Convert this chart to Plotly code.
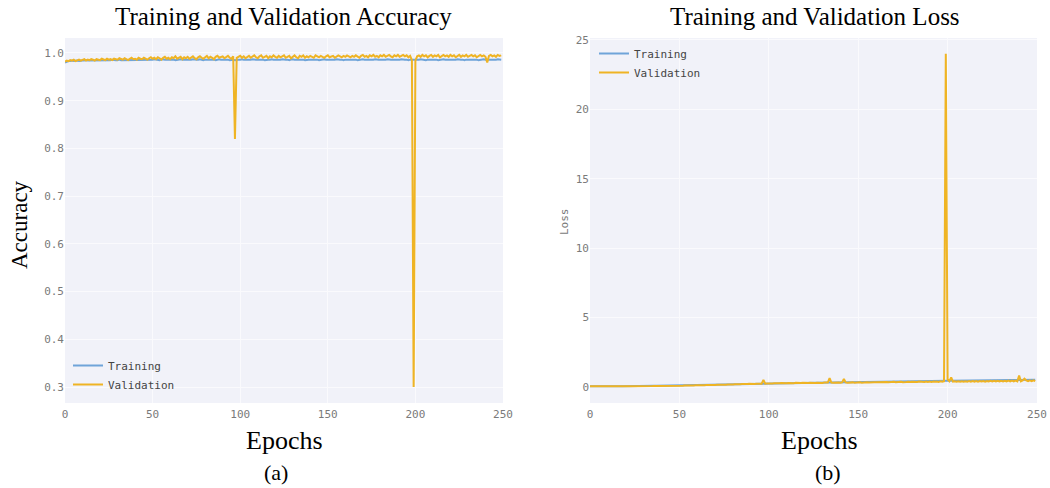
import plotly.graph_objects as go

# ---- data -------------------------------------------------------------
epochs = list(range(250))

acc_train = [
    0.980, 0.982, 0.983, 0.983, 0.984, 0.983, 0.984, 0.984, 0.983, 0.984,
    0.984, 0.984, 0.985, 0.984, 0.984, 0.985, 0.984, 0.985, 0.985, 0.984,
    0.985, 0.985, 0.985, 0.984, 0.985, 0.985, 0.985, 0.986, 0.985, 0.985,
    0.985, 0.986, 0.985, 0.985, 0.986, 0.985, 0.986, 0.986, 0.985, 0.986,
    0.986, 0.985, 0.986, 0.986, 0.986, 0.985, 0.986, 0.986, 0.986, 0.986,
    0.986, 0.987, 0.986, 0.986, 0.985, 0.986, 0.987, 0.986, 0.986, 0.986,
    0.987, 0.986, 0.986, 0.985, 0.986, 0.986, 0.987, 0.986, 0.986, 0.986,
    0.986, 0.985, 0.986, 0.987, 0.986, 0.986, 0.986, 0.987, 0.986, 0.985,
    0.986, 0.986, 0.987, 0.986, 0.986, 0.986, 0.985, 0.986, 0.987, 0.986,
    0.986, 0.986, 0.987, 0.986, 0.985, 0.986, 0.986, 0.985, 0.986, 0.986,
    0.986, 0.987, 0.986, 0.986, 0.986, 0.985, 0.986, 0.987, 0.986, 0.986,
    0.986, 0.986, 0.987, 0.986, 0.985, 0.986, 0.986, 0.986, 0.987, 0.986,
    0.986, 0.985, 0.986, 0.986, 0.987, 0.986, 0.986, 0.986, 0.985, 0.986,
    0.987, 0.986, 0.986, 0.986, 0.986, 0.987, 0.986, 0.985, 0.986, 0.986,
    0.986, 0.986, 0.987, 0.986, 0.986, 0.985, 0.986, 0.986, 0.987, 0.986,
    0.986, 0.986, 0.985, 0.986, 0.986, 0.987, 0.986, 0.986, 0.986, 0.985,
    0.986, 0.986, 0.986, 0.987, 0.986, 0.986, 0.986, 0.985, 0.986, 0.986,
    0.987, 0.986, 0.986, 0.986, 0.985, 0.986, 0.986, 0.987, 0.986, 0.986,
    0.986, 0.986, 0.985, 0.986, 0.987, 0.986, 0.986, 0.986, 0.986, 0.985,
    0.986, 0.986, 0.987, 0.986, 0.986, 0.986, 0.985, 0.986, 0.986, 0.985,
    0.986, 0.986, 0.986, 0.987, 0.986, 0.986, 0.985, 0.986, 0.986, 0.987,
    0.986, 0.986, 0.986, 0.985, 0.986, 0.986, 0.987, 0.986, 0.986, 0.986,
    0.986, 0.985, 0.986, 0.986, 0.987, 0.986, 0.986, 0.986, 0.985, 0.986,
    0.986, 0.987, 0.986, 0.986, 0.986, 0.986, 0.985, 0.986, 0.986, 0.987,
    0.986, 0.986, 0.986, 0.985, 0.986, 0.986, 0.986, 0.987, 0.986, 0.986,
]

acc_val = [
    0.982, 0.984, 0.983, 0.985, 0.984, 0.986, 0.983, 0.985, 0.986, 0.984,
    0.985, 0.987, 0.984, 0.986, 0.985, 0.987, 0.986, 0.984, 0.987, 0.986,
    0.985, 0.988, 0.986, 0.985, 0.988, 0.986, 0.987, 0.985, 0.988, 0.987,
    0.986, 0.989, 0.987, 0.986, 0.989, 0.987, 0.985, 0.988, 0.990, 0.987,
    0.988, 0.986, 0.990, 0.988, 0.987, 0.990, 0.988, 0.986, 0.989, 0.991,
    0.988, 0.990, 0.987, 0.991, 0.989, 0.986, 0.990, 0.992, 0.988, 0.990,
    0.987, 0.991, 0.989, 0.993, 0.988, 0.990, 0.992, 0.987, 0.991, 0.989,
    0.992, 0.988, 0.990, 0.993, 0.989, 0.987, 0.991, 0.993, 0.990, 0.988,
    0.991, 0.994, 0.989, 0.992, 0.990, 0.987, 0.992, 0.994, 0.990, 0.991,
    0.993, 0.989, 0.992, 0.994, 0.990, 0.988, 0.993, 0.820, 0.990, 0.992,
    0.994, 0.990, 0.993, 0.989, 0.991, 0.994, 0.990, 0.992, 0.995, 0.991,
    0.989, 0.993, 0.995, 0.990, 0.992, 0.994, 0.989, 0.993, 0.991, 0.995,
    0.992, 0.990, 0.994, 0.991, 0.993, 0.995, 0.990, 0.992, 0.994, 0.989,
    0.993, 0.995, 0.991, 0.989, 0.994, 0.992, 0.995, 0.990, 0.993, 0.991,
    0.994, 0.992, 0.990, 0.995, 0.993, 0.991, 0.994, 0.992, 0.990, 0.993,
    0.995, 0.991, 0.993, 0.994, 0.990, 0.992, 0.995, 0.993, 0.991, 0.994,
    0.992, 0.995, 0.993, 0.991, 0.994, 0.992, 0.995, 0.993, 0.990, 0.994,
    0.996, 0.992, 0.994, 0.991, 0.995, 0.993, 0.996, 0.992, 0.994, 0.991,
    0.995, 0.993, 0.996, 0.992, 0.994, 0.996, 0.993, 0.991, 0.995, 0.993,
    0.996, 0.992, 0.994, 0.996, 0.993, 0.995, 0.991, 0.994, 0.985, 0.300,
    0.984, 0.993, 0.995, 0.992, 0.996, 0.993, 0.995, 0.991, 0.994, 0.996,
    0.992, 0.995, 0.993, 0.996, 0.991, 0.994, 0.996, 0.993, 0.995, 0.992,
    0.996, 0.993, 0.995, 0.991, 0.994, 0.996, 0.992, 0.995, 0.993, 0.996,
    0.992, 0.994, 0.996, 0.993, 0.995, 0.991, 0.994, 0.996, 0.993, 0.995,
    0.992, 0.980, 0.994, 0.996, 0.993, 0.995, 0.992, 0.996, 0.994, 0.995,
]

loss_train = [
    0.050, 0.047, 0.048, 0.046, 0.047, 0.045, 0.047, 0.046, 0.048, 0.047,
    0.049, 0.048, 0.051, 0.050, 0.053, 0.052, 0.055, 0.054, 0.057, 0.056,
    0.059, 0.060, 0.062, 0.061, 0.065, 0.064, 0.068, 0.067, 0.071, 0.070,
    0.074, 0.073, 0.077, 0.078, 0.081, 0.080, 0.084, 0.085, 0.088, 0.087,
    0.092, 0.093, 0.096, 0.095, 0.100, 0.101, 0.105, 0.104, 0.109, 0.110,
    0.114, 0.115, 0.119, 0.120, 0.125, 0.124, 0.130, 0.131, 0.136, 0.137,
    0.142, 0.143, 0.148, 0.149, 0.154, 0.153, 0.160, 0.161, 0.167, 0.168,
    0.173, 0.175, 0.180, 0.182, 0.187, 0.189, 0.194, 0.196, 0.201, 0.203,
    0.209, 0.210, 0.216, 0.218, 0.223, 0.225, 0.231, 0.232, 0.238, 0.240,
    0.245, 0.247, 0.252, 0.254, 0.259, 0.260, 0.265, 0.266, 0.271, 0.272,
    0.277, 0.277, 0.282, 0.282, 0.286, 0.286, 0.290, 0.290, 0.294, 0.293,
    0.297, 0.296, 0.300, 0.299, 0.302, 0.301, 0.304, 0.303, 0.306, 0.305,
    0.308, 0.307, 0.310, 0.309, 0.312, 0.311, 0.314, 0.313, 0.316, 0.315,
    0.318, 0.317, 0.320, 0.319, 0.322, 0.321, 0.324, 0.323, 0.326, 0.325,
    0.328, 0.327, 0.330, 0.329, 0.332, 0.331, 0.334, 0.333, 0.336, 0.335,
    0.338, 0.337, 0.340, 0.339, 0.342, 0.343, 0.346, 0.348, 0.353, 0.358,
    0.367, 0.375, 0.387, 0.393, 0.401, 0.403, 0.408, 0.408, 0.412, 0.412,
    0.415, 0.415, 0.418, 0.418, 0.421, 0.420, 0.424, 0.423, 0.426, 0.426,
    0.429, 0.428, 0.432, 0.431, 0.434, 0.434, 0.437, 0.436, 0.440, 0.439,
    0.442, 0.442, 0.445, 0.444, 0.448, 0.447, 0.450, 0.450, 0.453, 0.452,
    0.456, 0.455, 0.458, 0.458, 0.461, 0.460, 0.464, 0.463, 0.466, 0.466,
    0.469, 0.468, 0.472, 0.471, 0.474, 0.474, 0.477, 0.476, 0.480, 0.479,
    0.482, 0.482, 0.485, 0.484, 0.488, 0.487, 0.490, 0.490, 0.493, 0.492,
    0.496, 0.495, 0.498, 0.498, 0.501, 0.500, 0.504, 0.503, 0.506, 0.506,
    0.509, 0.508, 0.512, 0.511, 0.514, 0.514, 0.517, 0.545, 0.522, 0.519,
]

loss_val = [
    0.060, 0.052, 0.055, 0.050, 0.053, 0.049, 0.052, 0.050, 0.054, 0.051,
    0.053, 0.050, 0.055, 0.052, 0.057, 0.054, 0.058, 0.055, 0.060, 0.057,
    0.061, 0.058, 0.063, 0.060, 0.066, 0.062, 0.068, 0.065, 0.071, 0.068,
    0.073, 0.070, 0.076, 0.074, 0.079, 0.077, 0.082, 0.080, 0.086, 0.083,
    0.089, 0.087, 0.093, 0.090, 0.096, 0.094, 0.100, 0.098, 0.104, 0.102,
    0.095, 0.108, 0.100, 0.113, 0.105, 0.118, 0.110, 0.124, 0.116, 0.130,
    0.122, 0.136, 0.128, 0.142, 0.133, 0.148, 0.139, 0.154, 0.146, 0.160,
    0.152, 0.167, 0.158, 0.174, 0.165, 0.181, 0.171, 0.188, 0.178, 0.195,
    0.185, 0.202, 0.192, 0.209, 0.198, 0.216, 0.205, 0.223, 0.212, 0.230,
    0.219, 0.237, 0.225, 0.244, 0.232, 0.250, 0.238, 0.520, 0.245, 0.262,
    0.251, 0.270, 0.257, 0.276, 0.262, 0.281, 0.266, 0.286, 0.270, 0.291,
    0.274, 0.295, 0.277, 0.298, 0.280, 0.301, 0.283, 0.304, 0.285, 0.306,
    0.287, 0.309, 0.289, 0.311, 0.291, 0.313, 0.293, 0.315, 0.295, 0.317,
    0.297, 0.319, 0.299, 0.321, 0.640, 0.323, 0.302, 0.325, 0.304, 0.327,
    0.306, 0.329, 0.580, 0.331, 0.309, 0.333, 0.311, 0.335, 0.313, 0.337,
    0.315, 0.339, 0.317, 0.341, 0.320, 0.344, 0.323, 0.347, 0.327, 0.352,
    0.340, 0.350, 0.356, 0.338, 0.362, 0.345, 0.367, 0.349, 0.370, 0.352,
    0.373, 0.348, 0.376, 0.356, 0.379, 0.352, 0.382, 0.360, 0.384, 0.357,
    0.386, 0.363, 0.389, 0.360, 0.392, 0.367, 0.394, 0.364, 0.397, 0.370,
    0.399, 0.368, 0.402, 0.374, 0.404, 0.371, 0.407, 0.377, 0.420, 24.000,
    0.560, 0.420, 0.700, 0.390, 0.412, 0.381, 0.415, 0.386, 0.418, 0.383,
    0.421, 0.389, 0.424, 0.386, 0.427, 0.392, 0.430, 0.389, 0.433, 0.395,
    0.436, 0.392, 0.439, 0.398, 0.442, 0.395, 0.445, 0.401, 0.448, 0.398,
    0.451, 0.404, 0.454, 0.401, 0.457, 0.407, 0.460, 0.404, 0.463, 0.410,
    0.820, 0.413, 0.470, 0.600, 0.473, 0.416, 0.476, 0.419, 0.480, 0.422,
]

acc_ticks = [0.3, 0.4, 0.5, 0.6, 0.7, 0.8, 0.9, 1.0]
loss_ticks = [0, 5, 10, 15, 20, 25]
epoch_ticks = [0, 50, 100, 150, 200, 250]

# ---- styling ----------------------------------------------------------
W, H = 1050, 488
BLUE = "#6FA4D9"
GOLD = "#EFB424"
PLOT_BG = "#F1F2F9"
MONO = "DejaVu Sans Mono"
SERIF = "Liberation Serif"


def px_x(p):
    return p / W


def px_y(p):
    return 1 - p / H


fig = go.Figure()

fig.add_trace(go.Scatter(x=epochs, y=acc_train, name="Training", mode="lines",
                         line=dict(color=BLUE, width=2), xaxis="x", yaxis="y",
                         legend="legend"))
fig.add_trace(go.Scatter(x=epochs, y=acc_val, name="Validation", mode="lines",
                         line=dict(color=GOLD, width=2), xaxis="x", yaxis="y",
                         legend="legend"))
fig.add_trace(go.Scatter(x=epochs, y=loss_train, name="Training", mode="lines",
                         line=dict(color=BLUE, width=2), xaxis="x2", yaxis="y2",
                         legend="legend2"))
fig.add_trace(go.Scatter(x=epochs, y=loss_val, name="Validation", mode="lines",
                         line=dict(color=GOLD, width=2), xaxis="x2", yaxis="y2",
                         legend="legend2"))

tick_font = dict(family=MONO, size=11, color="#7a7a7a")
axis_common = dict(showgrid=True, gridcolor="#FAFAFD", gridwidth=1, zeroline=False,
                   showline=False, ticks="", tickfont=tick_font)

y_dom = [px_y(403), px_y(38)]

fig.update_layout(
    template="none",
    width=W, height=H,
    margin=dict(l=0, r=0, t=0, b=0),
    paper_bgcolor="white",
    plot_bgcolor=PLOT_BG,
    showlegend=True,
    xaxis=dict(domain=[px_x(65), px_x(503)], range=[0, 250], tickvals=epoch_ticks,
               anchor="y", ticklabelstandoff=3, **axis_common),
    yaxis=dict(domain=y_dom, range=[0.2665, 1.0314], tickvals=acc_ticks,
               tickformat=".1f", anchor="x", **axis_common),
    xaxis2=dict(domain=[px_x(590), px_x(1037)], range=[0, 250], tickvals=epoch_ticks,
                anchor="y2", ticklabelstandoff=3, **axis_common),
    yaxis2=dict(domain=y_dom, range=[-1.15, 25.14], tickvals=loss_ticks,
                anchor="x2", **axis_common),
    legend=dict(x=px_x(68), y=px_y(399), xanchor="left", yanchor="bottom",
                bgcolor="rgba(0,0,0,0)", font=dict(family=MONO, size=11, color="#444"),
                itemwidth=30, tracegroupgap=0),
    legend2=dict(x=px_x(594), y=px_y(39), xanchor="left", yanchor="top",
                 bgcolor="rgba(0,0,0,0)", font=dict(family=MONO, size=11, color="#444"),
                 itemwidth=30, tracegroupgap=0),
)

title_font = dict(family=SERIF, size=25, color="black")
notes = [
    ("Training and Validation Accuracy", 283, 16, 0, title_font),
    ("Training and Validation Loss", 815, 16, 0, title_font),
    ("Epochs", 284, 440, 0, dict(family=SERIF, size=26, color="black")),
    ("Epochs", 819, 440, 0, dict(family=SERIF, size=26, color="black")),
    ("(a)", 276, 472, 0, dict(family=SERIF, size=22, color="black")),
    ("(b)", 828, 472, 0, dict(family=SERIF, size=22, color="black")),
    ("Accuracy", 19, 225, -90, dict(family=SERIF, size=23, color="black")),
    ("Loss", 564, 222, -90, dict(family=MONO, size=11, color="#7a7a7a")),
]
for text, x, y, ang, font in notes:
    fig.add_annotation(text=text, x=px_x(x), y=px_y(y), xref="paper", yref="paper",
                       xanchor="center", yanchor="middle", showarrow=False,
                       textangle=ang, font=font)

fig.write_html("out.html")
